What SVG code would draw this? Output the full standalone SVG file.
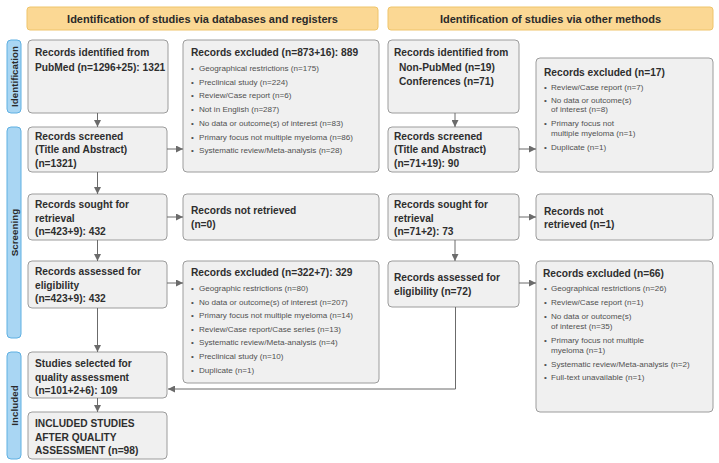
<svg xmlns="http://www.w3.org/2000/svg" width="719" height="463" viewBox="0 0 719 463">
<defs>
<marker id="ah" viewBox="0 0 10 10" refX="10" refY="5" markerWidth="7" markerHeight="7" markerUnits="userSpaceOnUse" orient="auto">
<path d="M0,0 L10,5 L0,10 z" fill="#6b6b6b"/>
</marker>
<style>
.hdr{fill:#fbd894;stroke:#efc46a;stroke-width:1}
.hdrt{font-family:"Liberation Sans",Arial,sans-serif;font-weight:bold;font-size:11px;fill:#2a2a2a;text-anchor:middle}
.side{fill:#a9d6f3;stroke:#5fb0e2;stroke-width:1}
.sidet{font-family:"Liberation Sans",Arial,sans-serif;font-weight:bold;font-size:9.8px;fill:#2a2a2a;text-anchor:middle}
.box{fill:#f0f0f0;stroke:#9c9c9c;stroke-width:1}
.t{font-family:"Liberation Sans",Arial,sans-serif;font-weight:bold;font-size:10.2px;fill:#2e2e2e}
.b{font-family:"Liberation Sans",Arial,sans-serif;font-size:8.1px;fill:#505050}
.c{fill:none;stroke:#6b6b6b;stroke-width:1}
</style>
</defs>

<g id="headers">
<rect class="hdr" x="27" y="7" width="351" height="23" rx="3"/>
<text class="hdrt" x="202.5" y="22.5">Identification of studies via databases and registers</text>
<rect class="hdr" x="388" y="7" width="325" height="23" rx="3"/>
<text class="hdrt" x="550.5" y="22.5">Identification of studies via other methods</text>
</g>

<g id="phases">
<rect class="side" x="7" y="40" width="14" height="73" rx="4"/>
<text class="sidet" transform="translate(17.5,76.5) rotate(-90)">Identification</text>
<rect class="side" x="7" y="127" width="14" height="211" rx="4"/>
<text class="sidet" transform="translate(17.5,232.5) rotate(-90)">Screening</text>
<rect class="side" x="7" y="352" width="14" height="107" rx="4"/>
<text class="sidet" transform="translate(17.5,405.5) rotate(-90)">Included</text>
</g>

<g id="n-pubmed">
<rect class="box" x="28" y="40" width="140" height="73" rx="4"/>
<text class="t" x="35" y="56">Records identified from</text>
<text class="t" x="35" y="70.5">PubMed (n=1296+25): 1321</text>
</g>

<g id="n-excl1">
<rect class="box" x="183" y="40" width="196" height="132" rx="4"/>
<text class="t" x="191" y="56">Records excluded (n=873+16): 889</text>
<text class="b" x="191" y="71">•</text><text class="b" x="199" y="71">Geographical restrictions (n=175)</text>
<text class="b" x="191" y="84.5">•</text><text class="b" x="199" y="84.5">Preclinical study (n=224)</text>
<text class="b" x="191" y="98">•</text><text class="b" x="199" y="98">Review/Case report (n=6)</text>
<text class="b" x="191" y="111.5">•</text><text class="b" x="199" y="111.5">Not in English (n=287)</text>
<text class="b" x="191" y="125.5">•</text><text class="b" x="199" y="125.5">No data or outcome(s) of interest (n=83)</text>
<text class="b" x="191" y="139.5">•</text><text class="b" x="199" y="139.5">Primary focus not multiple myeloma (n=86)</text>
<text class="b" x="191" y="152.5">•</text><text class="b" x="199" y="152.5">Systematic review/Meta-analysis (n=28)</text>
</g>

<g id="n-screened1">
<rect class="box" x="28" y="127" width="139" height="45" rx="4"/>
<text class="t" x="35" y="139.5">Records screened</text>
<text class="t" x="35" y="153">(Title and Abstract)</text>
<text class="t" x="35" y="166.5">(n=1321)</text>
</g>

<g id="n-sought1">
<rect class="box" x="28" y="194" width="139" height="46" rx="4"/>
<text class="t" x="35" y="208">Records sought for</text>
<text class="t" x="35" y="221.5">retrieval</text>
<text class="t" x="35" y="235">(n=423+9): 432</text>
</g>

<g id="n-notret1">
<rect class="box" x="183" y="194" width="196" height="46" rx="4"/>
<text class="t" x="191" y="214">Records not retrieved</text>
<text class="t" x="191" y="228">(n=0)</text>
</g>

<g id="n-assessed1">
<rect class="box" x="28" y="261" width="139" height="47" rx="4"/>
<text class="t" x="35" y="275">Records assessed for</text>
<text class="t" x="35" y="288.5">eligibility</text>
<text class="t" x="35" y="302">(n=423+9): 432</text>
</g>

<g id="n-excl3">
<rect class="box" x="183" y="261" width="196" height="122" rx="4"/>
<text class="t" x="191" y="276">Records excluded (n=322+7): 329</text>
<text class="b" x="191" y="291">•</text><text class="b" x="199" y="291">Geographic restrictions (n=80)</text>
<text class="b" x="191" y="304.5">•</text><text class="b" x="199" y="304.5">No data or outcome(s) of interest (n=207)</text>
<text class="b" x="191" y="318">•</text><text class="b" x="199" y="318">Primary focus not multiple myeloma (n=14)</text>
<text class="b" x="191" y="331.5">•</text><text class="b" x="199" y="331.5">Review/Case report/Case series (n=13)</text>
<text class="b" x="191" y="345">•</text><text class="b" x="199" y="345">Systematic review/Meta-analysis (n=4)</text>
<text class="b" x="191" y="359">•</text><text class="b" x="199" y="359">Preclinical study (n=10)</text>
<text class="b" x="191" y="372.5">•</text><text class="b" x="199" y="372.5">Duplicate (n=1)</text>
</g>

<g id="n-selected">
<rect class="box" x="28" y="352" width="139" height="46" rx="4"/>
<text class="t" x="35" y="367">Studies selected for</text>
<text class="t" x="35" y="380.5">quality assessment</text>
<text class="t" x="35" y="394">(n=101+2+6): 109</text>
</g>

<g id="n-included">
<rect class="box" x="28" y="412" width="139" height="47" rx="4"/>
<text class="t" x="35" y="427">INCLUDED STUDIES</text>
<text class="t" x="35" y="440.5">AFTER QUALITY</text>
<text class="t" x="35" y="454">ASSESSMENT (n=98)</text>
</g>

<g id="n-other">
<rect class="box" x="388" y="40" width="131" height="73" rx="4"/>
<text class="t" x="394" y="56">Records identified from</text>
<text class="t" x="399" y="70.5">Non-PubMed (n=19)</text>
<text class="t" x="399" y="85">Conferences (n=71)</text>
</g>

<g id="n-excl2">
<rect class="box" x="536" y="58" width="177" height="114" rx="4"/>
<text class="t" x="544" y="75.5">Records excluded (n=17)</text>
<text class="b" x="544" y="90">•</text><text class="b" x="551" y="90">Review/Case report (n=7)</text>
<text class="b" x="544" y="102.5">•</text><text class="b" x="551" y="102.5">No data or outcome(s)</text>
<text class="b" x="551" y="111.5">of interest (n=8)</text>
<text class="b" x="544" y="126">•</text><text class="b" x="551" y="126">Primary focus not</text>
<text class="b" x="551" y="136">multiple myeloma (n=1)</text>
<text class="b" x="544" y="150">•</text><text class="b" x="551" y="150">Duplicate (n=1)</text>
</g>

<g id="n-screened2">
<rect class="box" x="388" y="127" width="131" height="45" rx="4"/>
<text class="t" x="394" y="139.5">Records screened</text>
<text class="t" x="394" y="153">(Title and Abstract)</text>
<text class="t" x="394" y="166.5">(n=71+19): 90</text>
</g>

<g id="n-sought2">
<rect class="box" x="388" y="194" width="131" height="46" rx="4"/>
<text class="t" x="394" y="208">Records sought for</text>
<text class="t" x="394" y="221.5">retrieval</text>
<text class="t" x="394" y="235">(n=71+2): 73</text>
</g>

<g id="n-notret2">
<rect class="box" x="536" y="194" width="177" height="46" rx="4"/>
<text class="t" x="544" y="214.5">Records not</text>
<text class="t" x="544" y="228">retrieved (n=1)</text>
</g>

<g id="n-assessed2">
<rect class="box" x="388" y="261" width="131" height="46" rx="4"/>
<text class="t" x="394" y="281">Records assessed for</text>
<text class="t" x="394" y="294.5">eligibility (n=72)</text>
</g>

<g id="n-excl4">
<rect class="box" x="536" y="261" width="177" height="151" rx="4"/>
<text class="t" x="543" y="277">Records excluded (n=66)</text>
<text class="b" x="544" y="291">•</text><text class="b" x="551" y="291">Geographical restrictions (n=26)</text>
<text class="b" x="544" y="304.5">•</text><text class="b" x="551" y="304.5">Review/Case report (n=1)</text>
<text class="b" x="544" y="318.5">•</text><text class="b" x="551" y="318.5">No data or outcome(s)</text>
<text class="b" x="551" y="328.5">of interest (n=35)</text>
<text class="b" x="544" y="343">•</text><text class="b" x="551" y="343">Primary focus not multiple</text>
<text class="b" x="551" y="353">myeloma (n=1)</text>
<text class="b" x="544" y="367">•</text><text class="b" x="551" y="367">Systematic review/Meta-analysis (n=2)</text>
<text class="b" x="544" y="380">•</text><text class="b" x="551" y="380">Full-text unavailable (n=1)</text>
</g>

<g id="connectors">
<line class="c" x1="97.5" y1="113" x2="97.5" y2="127" marker-end="url(#ah)"/>
<line class="c" x1="97.5" y1="172" x2="97.5" y2="194" marker-end="url(#ah)"/>
<line class="c" x1="97.5" y1="240" x2="97.5" y2="261" marker-end="url(#ah)"/>
<line class="c" x1="97.5" y1="308" x2="97.5" y2="352" marker-end="url(#ah)"/>
<line class="c" x1="97.5" y1="398" x2="97.5" y2="412" marker-end="url(#ah)"/>
<line class="c" x1="167" y1="149" x2="183" y2="149" marker-end="url(#ah)"/>
<line class="c" x1="167" y1="217" x2="183" y2="217" marker-end="url(#ah)"/>
<line class="c" x1="167" y1="283" x2="183" y2="283" marker-end="url(#ah)"/>
<line class="c" x1="455" y1="113" x2="455" y2="127" marker-end="url(#ah)"/>
<line class="c" x1="455" y1="240" x2="455" y2="261" marker-end="url(#ah)"/>
<line class="c" x1="519" y1="149" x2="536" y2="149" marker-end="url(#ah)"/>
<line class="c" x1="519" y1="217" x2="536" y2="217" marker-end="url(#ah)"/>
<line class="c" x1="519" y1="283" x2="536" y2="283" marker-end="url(#ah)"/>
<polyline class="c" points="455.5,307 455.5,389 168,389" marker-end="url(#ah)"/>
</g>
</svg>
